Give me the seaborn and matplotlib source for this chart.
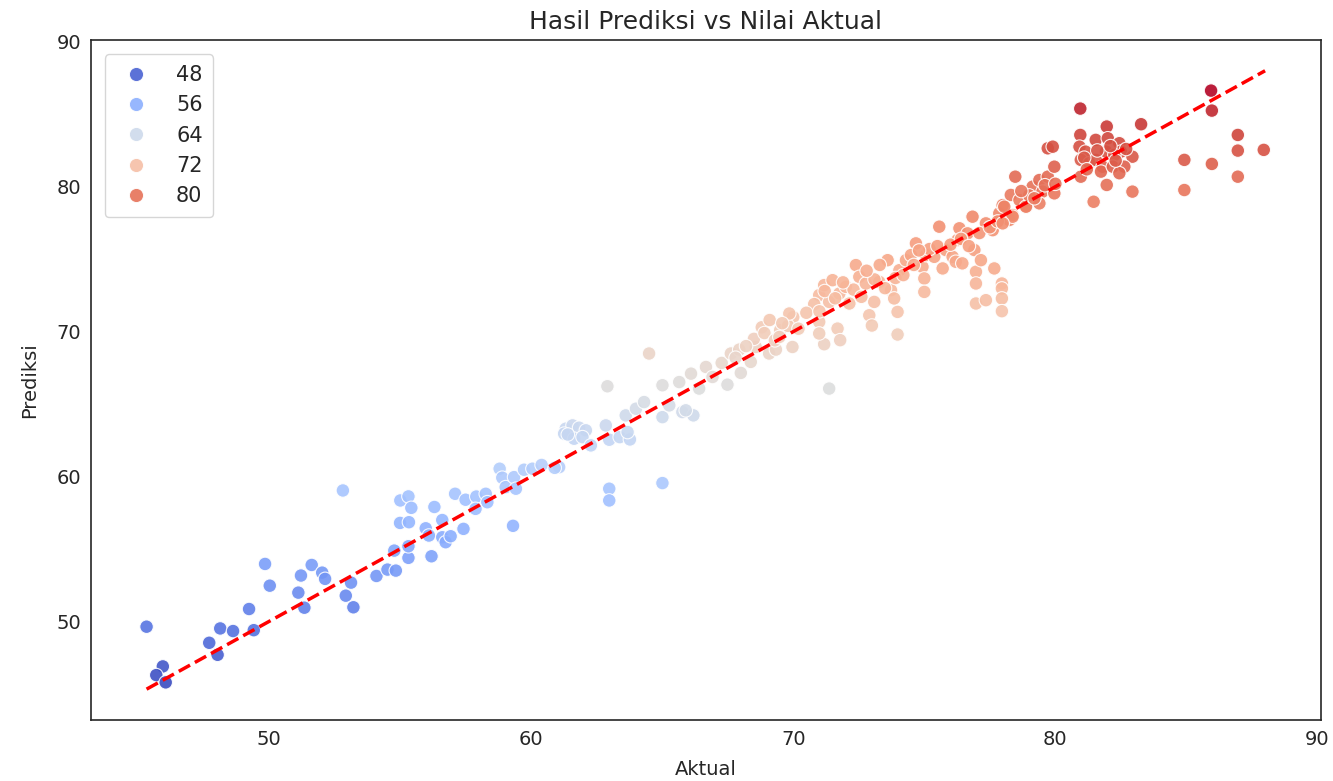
import numpy as np
import pandas as pd
import matplotlib
matplotlib.use("Agg")
import matplotlib.pyplot as plt
import seaborn as sns

aktual = [
    45.33, 45.95, 45.70, 46.06, 47.72, 48.04, 48.14, 48.63, 49.24, 49.42, 49.85, 50.03,
    51.12, 51.22, 51.35, 51.63, 52.03, 52.14, 53.13, 52.93, 53.22, 54.10, 54.52, 54.84,
    52.82, 54.78, 55.32, 55.32, 55.00, 55.34, 55.01, 55.32, 55.43, 56.20, 56.31, 55.98,
    56.10, 56.61, 56.61, 56.74, 56.93, 57.42, 57.10, 57.50, 57.91, 58.27, 58.33, 57.88,
    59.31, 58.80, 58.90, 59.03, 59.35, 59.42, 59.73, 60.05,
    61.07, 62.98, 62.98, 65.01, 62.91, 64.50, 61.32, 61.58, 61.83, 62.09, 61.26, 61.64,
    61.96, 62.28, 62.85, 62.98, 63.38, 63.77, 63.68, 63.61, 64.00, 64.31, 65.01, 65.77,
    66.19, 65.01, 65.27, 65.65, 66.10, 65.90, 66.41, 66.67, 66.92, 67.27, 67.49, 68.00,
    67.62, 67.94, 68.38, 68.57, 69.08, 69.34, 69.97, 71.18, 71.37,
    60.40, 60.90, 61.40, 68.80, 69.10, 68.50, 69.50, 70.00, 69.80, 68.20, 67.80, 68.90,
    69.30, 70.20,
    69.47, 69.85, 69.58, 70.99, 70.99, 71.69, 71.79, 72.90, 73.00, 73.98, 73.98, 70.99,
    71.18, 71.50, 71.37, 71.76, 72.01, 72.14, 72.39, 72.52, 72.77, 73.09, 73.28, 73.60,
    73.73, 73.85, 74.05, 74.30, 74.68, 74.49, 74.93, 75.00, 75.00, 75.06, 75.38, 75.57,
    75.70, 75.82, 76.08, 76.20, 76.27, 76.45, 76.34, 76.65, 76.84, 76.91, 76.97, 76.97,
    76.97, 77.35, 77.16, 77.35, 77.67, 77.61, 77.96, 77.96, 77.96, 77.96, 78.24, 78.37,
    78.88, 77.86, 77.99,
    71.20, 71.60, 72.30, 72.60, 73.10, 73.50, 73.90, 74.20, 74.60, 75.20, 75.50, 76.00,
    76.40, 76.70, 77.10, 77.50, 77.80, 74.80, 73.30, 72.80, 71.90, 70.80, 70.50, 71.00,
    85.94, 85.97, 80.95, 80.95, 81.96, 83.27, 81.54, 82.00, 80.92, 81.15, 79.71, 79.90,
    82.44, 82.50, 81.93, 82.94, 82.25, 80.97, 81.30, 81.54, 81.80, 81.74, 82.19, 82.63,
    82.44, 80.97, 81.96, 82.94, 81.46, 84.92, 84.92, 85.97, 86.96, 86.96, 86.96, 87.95,
    78.47, 79.13, 79.39, 79.71, 79.96, 79.51, 79.96, 78.30, 78.63, 79.39, 78.05, 78.88,
    78.37, 77.99,
    81.10, 81.60, 82.10, 82.30, 81.20, 82.70, 79.00, 79.60, 80.00, 78.70, 79.20,
]
prediksi = [
    49.64, 46.90, 46.30, 45.80, 48.53, 47.70, 49.52, 49.34, 50.86, 49.40, 53.97, 52.47,
    51.99, 53.17, 50.95, 53.90, 53.37, 52.94, 52.68, 51.78, 50.98, 53.14, 53.58, 53.51,
    59.04, 54.89, 54.39, 55.19, 56.80, 56.85, 58.35, 58.63, 57.84, 54.50, 57.90, 56.43,
    55.93, 57.00, 55.81, 55.47, 55.88, 56.39, 58.81, 58.40, 58.62, 58.81, 58.23, 57.77,
    56.60, 60.54, 59.92, 59.27, 59.96, 59.16, 60.47, 60.54,
    60.65, 59.16, 58.35, 59.55, 66.23, 68.49, 63.30, 63.53, 63.37, 63.19, 62.96, 62.61,
    62.72, 62.15, 63.53, 62.54, 62.72, 62.56, 63.07, 64.22, 64.68, 65.14, 64.10, 64.45,
    64.22, 66.30, 64.91, 66.52, 67.10, 64.57, 66.07, 67.56, 66.87, 67.84, 66.34, 67.15,
    68.49, 68.76, 67.91, 68.94, 68.49, 68.76, 68.94, 69.13, 66.07,
    60.80, 60.60, 62.90, 70.30, 70.80, 69.50, 70.10, 71.00, 70.40, 69.00, 68.20, 69.90,
    69.40, 70.20,
    69.63, 71.25, 70.58, 70.67, 69.87, 70.21, 69.41, 71.13, 70.42, 71.36, 69.80, 72.52,
    73.21, 73.55, 72.05, 72.63, 73.09, 71.94, 74.59, 73.78, 73.32, 72.05, 73.43, 74.93,
    72.86, 72.29, 74.24, 74.93, 76.09, 75.28, 74.47, 73.67, 72.74, 75.28, 75.16, 77.24,
    74.36, 75.63, 75.16, 74.82, 76.32, 74.71, 77.13, 76.78, 77.93, 75.63, 74.13, 73.32,
    71.94, 72.17, 74.93, 77.47, 74.36, 77.00, 73.32, 72.98, 72.29, 71.41, 77.70, 78.04,
    78.62, 78.16, 78.73,
    72.80, 72.30, 72.90, 72.40, 73.60, 73.00, 73.70, 73.90, 74.60, 75.70, 75.90, 76.00,
    76.40, 75.90, 76.80, 77.20, 77.60, 75.60, 74.60, 74.20, 73.40, 71.90, 71.30, 71.40,
    86.63, 85.25, 85.39, 83.57, 84.15, 84.31, 83.23, 83.34, 82.76, 82.42, 82.65, 82.76,
    83.00, 82.42, 82.42, 82.07, 82.19, 81.85, 81.62, 81.85, 81.38, 81.04, 81.38, 81.38,
    80.93, 80.69, 80.12, 79.66, 78.96, 81.85, 79.77, 81.57, 83.57, 82.49, 80.69, 82.54,
    80.69, 80.00, 80.46, 80.69, 81.38, 79.66, 79.54, 79.43, 79.08, 78.85, 78.62, 78.62,
    77.93, 77.47,
    82.00, 82.50, 82.80, 81.80, 81.20, 82.60, 79.40, 80.10, 80.20, 79.70, 79.20,
]

df = pd.DataFrame({"Aktual": aktual, "Prediksi": prediksi})

sns.set_style("white")
plt.rcParams['font.family'] = ['DejaVu Sans']

fig, ax = plt.subplots(figsize=(13.33, 7.81), dpi=100)
fig.subplots_adjust(left=0.068, right=0.991, top=0.949, bottom=0.078)

sns.scatterplot(data=df, x="Aktual", y="Prediksi", hue=np.array(prediksi),
                palette="coolwarm", s=95, alpha=0.9, edgecolor="white",
                linewidth=0.8, ax=ax)

lo, hi = min(aktual), 88.0
ax.plot([lo, hi], [lo, hi], 'r--', lw=2.5)

ax.set_title("Hasil Prediksi vs Nilai Aktual", fontsize=18, color="#262626", pad=8)
ax.set_xlabel("Aktual", fontsize=14, color="#262626", labelpad=8)
ax.set_ylabel("Prediksi", fontsize=14, color="#262626", labelpad=12)
ax.tick_params(axis="both", labelsize=14, colors="#262626")
ax.set_xticks([50, 60, 70, 80, 90])
ax.set_yticks([50, 60, 70, 80, 90])
ax.legend(loc="upper left", fontsize=15, markerscale=1.05,
          handletextpad=0.9, borderaxespad=0.7, borderpad=0.5)

for sp in ax.spines.values():
    sp.set_color("#262626")
    sp.set_linewidth(1.2)

fig.savefig("out.png", dpi=100)
